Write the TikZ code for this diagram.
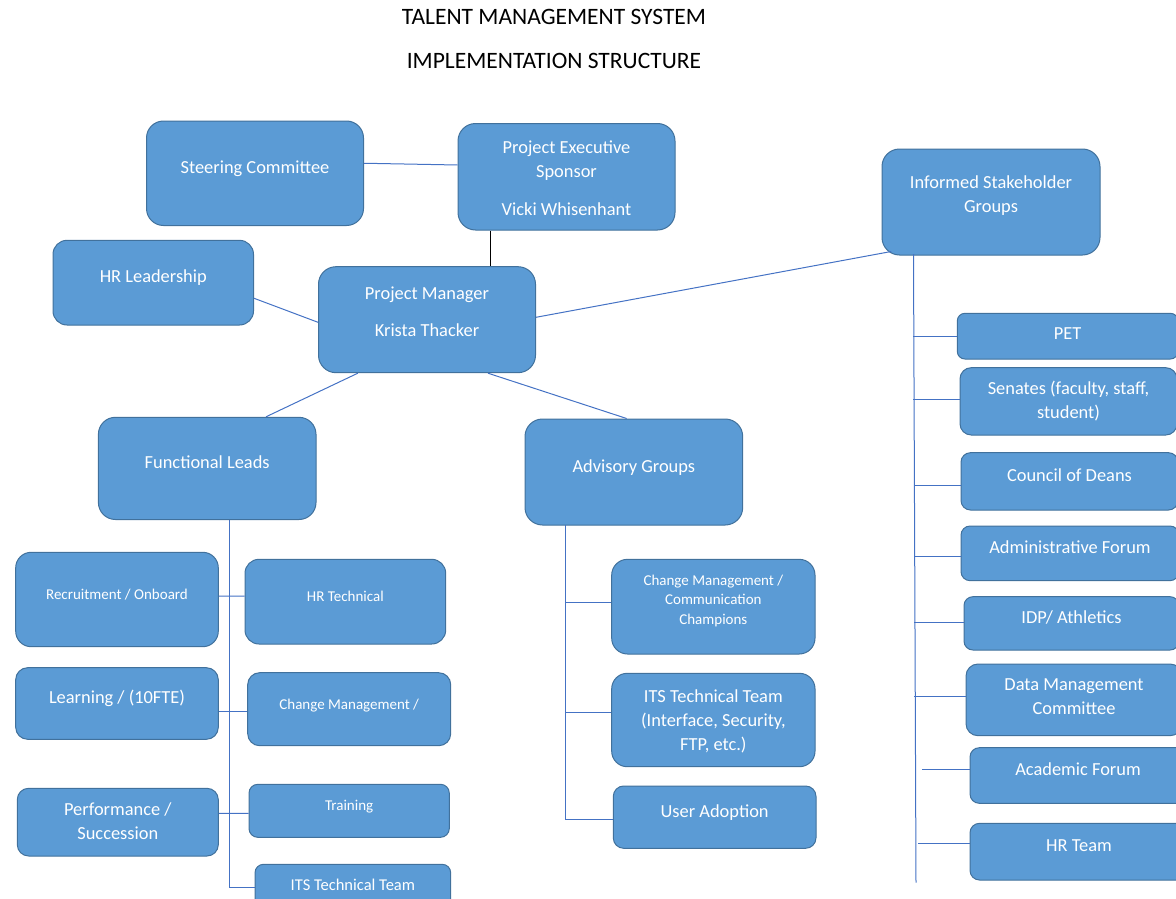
\documentclass[tikz,border=0pt]{standalone}
\usepackage{fontspec}
\setmainfont{Carlito}
\definecolor{boxfill}{HTML}{5B9BD5}
\definecolor{boxline}{HTML}{41719C}
\definecolor{linkblue}{HTML}{4472C4}
\newcommand{\boxfont}{\fontsize{18.4}{24}\selectfont}
\newcommand{\boxsmall}{\fontsize{15}{19.5}\selectfont}
\newcommand{\itsfont}{\fontsize{16.5}{20}\selectfont}
\newcommand{\titlefont}{\fontsize{23.5}{28}\selectfont}
\begin{document}
\begin{tikzpicture}[x=1pt,y=-1pt,line width=1pt,
    box/.style={draw=boxline,fill=boxfill,rounded corners=#1,text=white,align=center,font=\boxfont,text depth=0pt},
    box/.default=12pt,
    link/.style={draw=linkblue}]
\useasboundingbox (0,0) rectangle (1176,899);
\clip (0,0) rectangle (1176,899);
% title
\node[font=\titlefont,anchor=base] (title) at (554,25) {TALENT MANAGEMENT SYSTEM};
\node[font=\titlefont,anchor=base] (subtitle) at (554,68.3) {IMPLEMENTATION STRUCTURE};
% top level
\node[box=17pt,minimum width=217pt,minimum height=104.5pt,text height=-1.1pt] (steer) at (255,173.25) {Steering Committee};
\node[box=17.5pt,minimum width=217pt,minimum height=106.5pt,text height=76.5pt] (exec) at (566.5,176.75) {Project Executive\\Sponsor\\[13.4pt]Vicki Whisenhant};
\node[box=17.5pt,minimum width=218pt,minimum height=106pt,text height=21.4pt] (inform) at (991,202) {Informed Stakeholder\\Groups};
\node[box=14pt,minimum width=200.5pt,minimum height=84.7pt,text height=-1.9pt] (hrlead) at (153.25,282.65) {HR Leadership};
\node[box=17.5pt,minimum width=217pt,minimum height=106pt,text height=34pt] (pm) at (427,319.7) {Project Manager\\[13.4pt]Krista Thacker};
\node[box=17pt,minimum width=217.6pt,minimum height=102.2pt,text height=-2.2pt] (fl) at (207.2,468.4) {Functional Leads};
\node[box=17.5pt,minimum width=217.7pt,minimum height=106pt,text height=-4pt] (adv) at (633.85,472) {Advisory Groups};
% functional leads
\node[box=15.5pt,minimum width=202.6pt,minimum height=94.4pt,text height=-7pt,font=\boxsmall] (recr) at (117,599.5) {Recruitment / Onboard};
\node[box=14pt,minimum width=200.7pt,minimum height=84.7pt,text height=-3.3pt,font=\boxsmall] (hrtech) at (345.35,601.65) {HR Technical};
\node[box=12pt,minimum width=202.6pt,minimum height=71.6pt,text height=0pt] (learn) at (117,703.5) {Learning / (10FTE)};
\node[box=12pt,minimum width=203pt,minimum height=73pt,text height=-3pt,font=\boxsmall] (cmgmt) at (349.2,709.2) {Change Management /};
\node[box=11.3pt,minimum width=201pt,minimum height=67.7pt,text height=34.3pt] (perf) at (117.8,822.15) {Performance /\\Succession};
\node[box=8.8pt,minimum width=200.3pt,minimum height=53pt,text height=-7pt,font=\boxsmall] (train) at (349.15,810.8) {Training};
\node[box=8.5pt,minimum width=195.7pt,minimum height=52pt,text height=-2pt,font=\itsfont] (itsl) at (352.85,890.3) {ITS Technical Team};
% advisory groups
\node[box=15.8pt,minimum width=203.3pt,minimum height=94.7pt,text height=34.7pt,font=\boxsmall] (cmch) at (713.35,606.65) {Change Management /\\Communication\\Champions};
\node[box=15.5pt,minimum width=203.3pt,minimum height=93.4pt,text height=60pt] (itst) at (713.35,720) {ITS Technical Team\\(Interface, Security,\\FTP, etc.)};
\node[box=10.4pt,minimum width=202.7pt,minimum height=62.3pt,text height=-1pt] (usera) at (714.65,817.15) {User Adoption};
% informed stakeholders
\node[box=7.6pt,minimum width=220.7pt,minimum height=45.7pt,text height=6.3pt] (pet) at (1067.65,336.15) {PET};
\node[box=11.2pt,minimum width=217pt,minimum height=67.3pt,text height=33.9pt] (senates) at (1068.5,401.35) {Senates (faculty, staff,\\student)};
\node[box=9.5pt,minimum width=217pt,minimum height=57.3pt,text height=-2.7pt] (council) at (1069.5,481.35) {Council of Deans};
\node[box=9.1pt,minimum width=218pt,minimum height=54.7pt,text height=-3.3pt] (admin) at (1070,553.35) {Administrative Forum};
\node[box=8.9pt,minimum width=215pt,minimum height=53.3pt,text height=0pt] (idp) at (1071.5,623.35) {IDP/ Athletics};
\node[box=12pt,minimum width=216pt,minimum height=71.7pt,text height=28.9pt] (data) at (1074,699.85) {Data Management\\Committee};
\node[box=9.3pt,minimum width=216pt,minimum height=55.6pt,text height=0.4pt] (acad) at (1078,775.5) {Academic Forum};
\node[box=9.5pt,minimum width=218pt,minimum height=56.7pt,text height=-1.9pt] (hrteam) at (1079,851.65) {HR Team};
% bus lines
\coordinate (flbus) at (229,519.5);
\coordinate (agbus) at (565,525);
\coordinate (isbus) at (913.5,254);
\coordinate (isend) at (916,882.7);
% connectors
\draw[link] ([yshift=10pt]steer.east) -- ([yshift=11.75pt]exec.west);
\draw ([xshift=-75.9pt]exec.south) -- ([xshift=63.6pt]pm.north);
\draw[link] ([yshift=-15.6pt]hrlead.east) -- ([yshift=-2.6pt]pm.west);
\draw[link] ([xshift=-69.2pt]pm.south) -- ([xshift=58.8pt]fl.north);
\draw[link] ([xshift=61pt]pm.south) -- ([xshift=-7.2pt]adv.north);
\draw[link] ([yshift=2.4pt]pm.east) -- ([xshift=9.7pt,yshift=4pt]inform.south west);
% functional leads tree
\draw[link] (flbus) |- ([yshift=2.6pt]itsl.west);
\draw[link] ([yshift=3.5pt]recr.east) -- ([yshift=5.6pt]hrtech.west);
\draw[link] ([yshift=-8.2pt]learn.east) -- ([yshift=-2.5pt]cmgmt.west);
\draw[link] ([yshift=8.8pt]perf.east) -- ([yshift=-2.5pt]train.west);
% advisory tree
\draw[link] (agbus) |- ([yshift=-2.4pt]usera.west);
\draw[link] ([yshift=4.3pt]cmch.west) -- ([xshift=-46.7pt,yshift=4.3pt]cmch.west);
\draw[link] ([yshift=7.3pt]itst.west) -- ([xshift=-46.7pt,yshift=7.3pt]itst.west);
% stakeholder tree
\draw[link] (isbus) -- (isend);
\foreach \g/\dx/\dy in {pet/43.5/-0.5,senates/46.3/2,council/47/-4.3,admin/47/-3.3,idp/49.8/1,data/51.5/3.1,acad/47.7/6.2,hrteam/51.3/7.8}
  \draw[link] ([yshift=\dy pt]\g.west) -- ([xshift=-\dx pt,yshift=\dy pt]\g.west);
\end{tikzpicture}
\end{document}
